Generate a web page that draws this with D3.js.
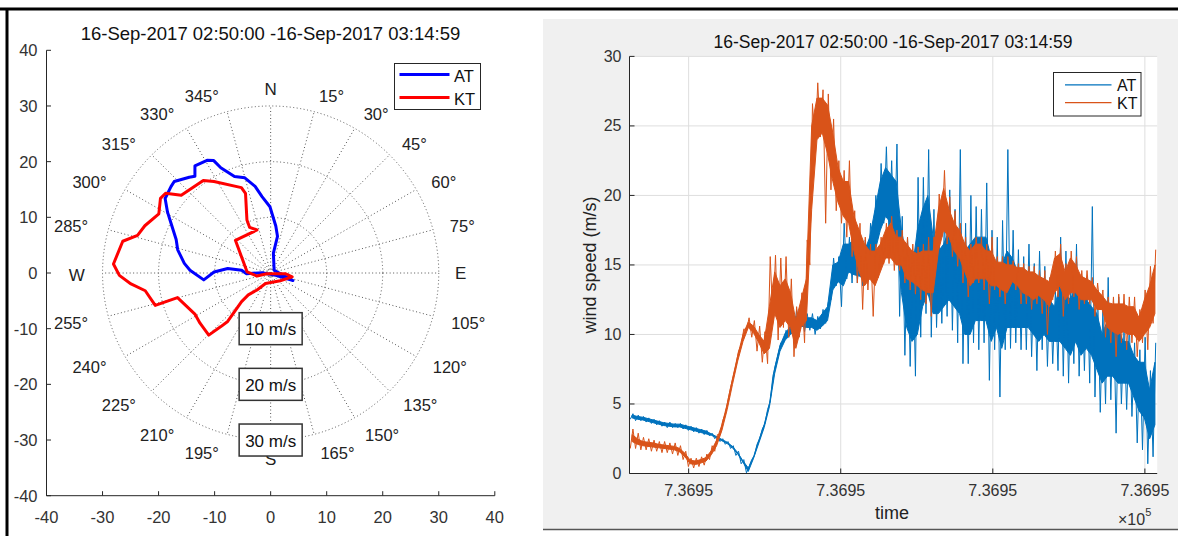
<!DOCTYPE html>
<html>
<head>
<meta charset="utf-8">
<script src="https://cdn.jsdelivr.net/npm/d3@7"></script>
<style>
    body { margin: 0; background: #fff; }
    svg { display: block; font-family: "Liberation Sans", Arial, sans-serif; }
</style>
</head>
<body>
<svg id="fig" width="1178" height="536"></svg>
<script>
// Shared title
const titleText = '16-Sep-2017 02:50:00 -16-Sep-2017 03:14:59';

// Left: wind direction plot, vertices in drawing order (compass deg, m/s)
const atDir = [330.7, 324.9, 322.1, 319.8, 313.7, 311.1, 305.4, 300.7, 297.0, 289.6, 284.1, 276.4, 272.0, 264.1, 271.0, 276.0,
    275.4, 268.4, 272.0, 115.0, 108.7, 51.0, 7.8, 10.5, 6.2, 359.4, 353.6, 349.9, 344.9, 339.6, 334.8, 333.3];
const atSpeed = [23.2, 23.5, 22.0, 22.5, 23.8, 23.6, 23.1, 21.4, 20.0, 17.9, 17.1, 15.5, 14.4, 12.0, 10.1, 7.7,
    5.2, 4.3, 1.5, 1.0, 4.2, 0.8, 3.6, 6.7, 8.5, 11.9, 13.8, 15.8, 17.7, 18.5, 20.9, 22.6];
const ktDir = [100.1, 129.3, 205.8, 218.7, 225.4, 225.3, 221.4, 222.7, 224.7, 234.4, 241.4, 255.1, 254.2, 261.9, 265.5, 269.1,
    273.3, 282.2, 285.9, 290.7, 298.0, 304.3, 307.4, 311.2, 324.1, 328.4, 341.2, 342.6, 336.0, 335.4, 342.5, 313.0,
    272.6, 257.4, 260.0, 92.6];
const ktSpeed = [3.9, 2.2, 2.1, 3.9, 5.6, 7.3, 11.6, 13.1, 15.7, 15.5, 15.4, 17.2, 21.4, 22.6, 25.0, 27.0,
    28.1, 27.0, 24.7, 24.0, 22.6, 23.8, 23.6, 21.2, 20.5, 19.3, 16.2, 15.0, 10.4, 9.0, 8.1, 8.6,
    4.2, 2.5, 0.7, 2.6];
const ringSpeeds = [10, 20, 30];
const spokeAngles = d3.range(0, 360, 15);
const cardinals = { 0: 'N', 90: 'E', 180: 'S', 270: 'W' };
const cartTicks = [-40, -30, -20, -10, 0, 10, 20, 30, 40];

// Right: wind speed time series per 15 s bin from 02:50:00
// *Min/*Max = extremes (spikes), *CoreLo/*CoreHi = dense part of the trace
const dayNum = 736954;
const startSec = 2 * 3600 + 50 * 60;
const endSec = 3 * 3600 + 14 * 60 + 59;
const binSec = 15;
const atMin = [3.9, 3.8, 3.8, 3.7, 3.6, 3.5, 3.4, 3.3, 3.3, 3.3, 3.2, 3.1, 3.0, 2.9, 2.8, 2.7, 2.5, 2.3, 2.1, 1.8,
    1.3, 0.7, 0.05, 1.0, 2.1, 3.2, 4.6, 7.0, 8.6, 9.4, 9.8, 10.0, 10.4, 10.2, 10.3, 10.0, 10.4, 10.8, 12.5, 13.5,
    12.0, 14.0, 13.7, 13.7, 13.5, 14.2, 15.1, 17.0, 18.0, 17.0, 16.0, 11.3, 8.5, 7.7, 7.0, 9.8, 11.5, 9.8, 10.5, 10.8,
    11.3, 10.3, 9.4, 7.9, 7.9, 9.4, 8.9, 9.4, 6.7, 8.9, 5.5, 8.9, 9.0, 9.4, 8.9, 8.9, 8.4, 7.4, 8.9, 7.7,
    7.9, 7.4, 7.0, 6.5, 7.9, 7.0, 7.4, 6.5, 5.5, 4.4, 5.0, 5.3, 2.9, 5.0, 4.6, 4.1, 2.2, 1.7, 0.7, 1.2];
const atMax = [4.3, 4.2, 4.1, 4.0, 3.9, 3.8, 3.7, 3.7, 3.6, 3.6, 3.5, 3.4, 3.3, 3.2, 3.1, 2.9, 2.7, 2.5, 2.3, 2.0,
    1.6, 1.0, 0.5, 1.3, 2.5, 3.6, 5.2, 7.8, 9.4, 10.3, 10.8, 11.8, 11.7, 11.5, 11.5, 11.3, 11.8, 12.3, 15.5, 15.6,
    18.0, 17.0, 17.5, 17.0, 16.8, 18.0, 20.0, 22.3, 23.5, 22.5, 23.7, 18.5, 17.0, 16.0, 21.3, 21.3, 23.3, 19.0, 17.0, 18.5,
    20.4, 19.0, 23.3, 18.0, 20.0, 19.2, 19.0, 20.9, 17.5, 17.0, 18.2, 23.3, 17.5, 16.1, 15.6, 16.5, 15.1, 16.0, 14.9, 14.1,
    13.2, 17.0, 16.0, 14.9, 16.5, 14.1, 14.1, 19.2, 13.2, 11.8, 14.1, 12.2, 12.7, 10.3, 10.8, 9.4, 8.9, 9.8, 7.4, 9.4];
const atCoreLo = [4.0, 3.9, 3.85, 3.75, 3.65, 3.55, 3.45, 3.4, 3.35, 3.35, 3.25, 3.15, 3.05, 2.95, 2.85, 2.75, 2.55, 2.35, 2.15, 1.85,
    1.4, 0.8, 0.15, 1.1, 2.2, 3.3, 4.8, 7.2, 8.8, 9.6, 10.0, 10.4, 10.6, 10.5, 10.5, 10.3, 10.6, 11.0, 13.2, 13.8,
    13.5, 14.5, 14.3, 14.2, 14.0, 14.8, 16.0, 17.5, 18.5, 18.0, 17.0, 13.0, 10.5, 9.5, 10.0, 12.0, 13.0, 11.5, 11.5, 12.0,
    12.5, 12.0, 11.5, 10.0, 10.0, 11.0, 11.0, 11.0, 9.5, 10.5, 9.0, 10.5, 10.5, 10.5, 10.5, 10.5, 10.0, 9.5, 10.0, 9.5,
    9.5, 9.5, 9.0, 8.5, 9.5, 8.5, 9.0, 8.5, 7.5, 6.5, 7.0, 7.0, 6.5, 6.5, 6.5, 5.5, 4.5, 4.0, 2.5, 3.5];
const atCoreHi = [4.2, 4.1, 4.05, 3.95, 3.85, 3.75, 3.65, 3.6, 3.55, 3.55, 3.45, 3.35, 3.25, 3.15, 3.05, 2.85, 2.65, 2.45, 2.25, 1.95,
    1.5, 0.9, 0.4, 1.2, 2.4, 3.5, 5.0, 7.6, 9.2, 10.1, 10.6, 11.3, 11.4, 11.2, 11.2, 11.0, 11.5, 12.0, 15.0, 15.2,
    16.5, 16.5, 16.8, 16.5, 16.0, 17.0, 19.0, 21.0, 22.0, 21.5, 21.0, 17.5, 15.5, 14.5, 17.5, 19.0, 20.0, 17.0, 16.0, 16.5,
    17.5, 17.0, 17.0, 16.0, 16.5, 17.0, 17.0, 17.0, 15.5, 15.0, 15.0, 16.0, 15.5, 14.5, 14.0, 14.5, 13.5, 13.5, 13.0, 12.5,
    12.0, 13.5, 13.0, 12.5, 13.5, 12.5, 12.5, 12.0, 11.5, 10.0, 11.0, 10.5, 10.5, 9.5, 9.5, 8.5, 8.0, 8.0, 6.0, 8.0];
const ktMin = [1.8, 1.8, 1.7, 1.7, 1.6, 1.6, 1.5, 1.5, 1.4, 1.3, 1.0, 0.5, 0.4, 0.5, 0.6, 1.0, 1.6, 2.8, 4.3, 6.2,
    7.8, 9.2, 10.3, 9.8, 8.8, 8.0, 7.9, 11.0, 9.6, 10.5, 9.8, 8.4, 9.8, 9.4, 15.0, 23.5, 24.2, 18.0, 20.4, 18.9,
    18.0, 17.0, 15.6, 13.7, 11.8, 13.2, 11.3, 14.1, 15.1, 15.1, 14.6, 14.6, 13.7, 13.2, 12.9, 12.5, 12.2, 11.3, 15.1, 17.0,
    16.5, 15.6, 14.9, 13.7, 12.7, 13.7, 13.7, 13.2, 12.2, 13.2, 12.7, 12.2, 13.7, 13.2, 12.2, 12.2, 11.8, 12.2, 11.5, 10.0,
    12.5, 12.7, 11.3, 12.2, 12.7, 11.8, 12.2, 12.2, 11.3, 11.8, 9.8, 9.4, 8.4, 9.4, 8.9, 9.4, 8.4, 9.4, 8.9, 10.8];
const ktMax = [3.2, 2.9, 2.6, 2.5, 2.4, 2.3, 2.3, 2.2, 2.2, 2.0, 1.6, 1.1, 1.1, 1.2, 1.4, 2.0, 2.8, 3.8, 5.3, 7.0,
    8.8, 10.4, 11.2, 11.0, 10.6, 10.2, 15.6, 15.7, 15.5, 15.6, 14.0, 12.0, 13.0, 16.8, 26.6, 28.1, 27.6, 27.3, 25.5, 22.5,
    21.8, 22.5, 18.9, 18.0, 17.0, 16.5, 16.5, 17.0, 18.0, 18.5, 17.5, 17.5, 17.0, 16.5, 16.3, 16.5, 17.0, 17.0, 20.1, 21.8,
    19.9, 18.9, 18.0, 17.0, 16.5, 17.0, 17.0, 16.5, 17.0, 15.6, 15.6, 15.6, 15.3, 15.1, 15.1, 14.9, 14.9, 14.6, 14.6, 14.1,
    16.0, 16.5, 15.1, 16.0, 15.6, 14.6, 14.6, 14.1, 13.7, 13.2, 12.7, 12.7, 12.9, 12.9, 12.7, 12.7, 11.8, 13.2, 14.9, 16.1];
const ktCoreLo = [2.3, 2.1, 2.0, 1.95, 1.9, 1.85, 1.8, 1.75, 1.7, 1.55, 1.2, 0.7, 0.65, 0.75, 0.9, 1.35, 2.0, 3.1, 4.6, 6.4,
    8.1, 9.5, 10.5, 10.1, 9.4, 8.6, 9.0, 11.5, 10.5, 11.0, 10.5, 9.0, 10.5, 11.0, 19.0, 24.0, 24.5, 23.0, 21.0, 19.5,
    18.5, 18.0, 16.0, 14.5, 13.5, 14.0, 13.5, 14.5, 15.5, 15.5, 15.0, 15.0, 14.0, 13.8, 13.5, 13.2, 13.0, 13.0, 16.0, 17.5,
    17.0, 16.0, 15.5, 14.5, 13.5, 14.0, 14.0, 14.0, 13.5, 13.5, 13.2, 13.0, 13.8, 13.5, 13.0, 12.8, 12.5, 12.8, 12.5, 12.0,
    13.0, 13.5, 12.5, 13.0, 13.0, 12.5, 12.5, 12.5, 11.8, 11.8, 10.5, 10.2, 10.0, 10.2, 10.0, 10.0, 9.5, 10.0, 10.5, 11.5];
const ktCoreHi = [2.8, 2.5, 2.3, 2.25, 2.2, 2.1, 2.05, 2.0, 1.95, 1.8, 1.45, 0.95, 0.9, 1.0, 1.15, 1.65, 2.4, 3.5, 5.0, 6.8,
    8.5, 10.0, 10.9, 10.6, 10.0, 9.5, 12.0, 14.5, 13.5, 14.0, 13.0, 11.0, 12.5, 14.0, 25.0, 27.0, 27.0, 26.5, 24.5, 22.0,
    21.0, 21.0, 18.5, 17.5, 16.5, 16.0, 16.0, 16.5, 17.5, 18.0, 17.0, 17.0, 16.5, 16.0, 15.8, 16.0, 16.0, 16.0, 19.0, 20.5,
    19.0, 18.0, 17.5, 16.5, 16.0, 16.5, 16.5, 16.0, 16.0, 15.2, 15.2, 15.0, 15.0, 14.8, 14.8, 14.5, 14.5, 14.2, 14.0, 13.8,
    15.5, 15.8, 14.5, 15.5, 15.0, 14.2, 14.0, 13.8, 13.2, 12.8, 12.3, 12.2, 12.2, 12.2, 12.0, 12.0, 11.2, 12.5, 13.5, 15.0];
const timeTicks = [736954.12, 736954.125, 736954.13, 736954.135];
const speedTicks = [0, 5, 10, 15, 20, 25, 30];

const svg = d3.select('#fig');
const axisColor = '#262626';
const textColor = '#333';

// Frame lines of the screenshot
svg.append('rect').attr('x', 543).attr('y', 19).attr('width', 635).attr('height', 510).attr('fill', '#f0f0f0');
svg.append('line').attr('x1', 543).attr('x2', 1178).attr('y1', 529.5).attr('y2', 529.5)
    .attr('stroke', '#555').attr('stroke-width', 1.5);
svg.append('line').attr('x1', 0).attr('x2', 1178).attr('y1', 9).attr('y2', 9)
    .attr('stroke', '#000').attr('stroke-width', 3);
svg.append('line').attr('x1', 7).attr('x2', 7).attr('y1', 8).attr('y2', 536)
    .attr('stroke', '#000').attr('stroke-width', 3);

// ---------- Left: compass plot ----------
const px = d3.scaleLinear().domain([-40, 40]).range([46.5, 494.8]);
const py = d3.scaleLinear().domain([-40, 40]).range([495.7, 50.3]);
const rad = d => d * Math.PI / 180;
const toXY = (dir, s) => [px(s * Math.sin(rad(dir))), py(s * Math.cos(rad(dir)))];

const left = svg.append('g');

left.append('text').attr('x', 270.5).attr('y', 33).attr('text-anchor', 'middle')
    .attr('dominant-baseline', 'central').attr('font-size', 18.5).attr('fill', '#111').text(titleText);

// cartesian axes
left.append('line').attr('x1', px(-40)).attr('x2', px(-40)).attr('y1', py(40)).attr('y2', py(-40))
    .attr('stroke', axisColor).attr('stroke-width', 1);
left.append('line').attr('x1', px(-40)).attr('x2', px(40)).attr('y1', py(-40)).attr('y2', py(-40))
    .attr('stroke', axisColor).attr('stroke-width', 1);
cartTicks.forEach(t => {
    left.append('line').attr('x1', px(-40)).attr('x2', px(-40) + 4.5).attr('y1', py(t)).attr('y2', py(t))
        .attr('stroke', axisColor);
    left.append('line').attr('x1', px(t)).attr('x2', px(t)).attr('y1', py(-40)).attr('y2', py(-40) - 4.5)
        .attr('stroke', axisColor);
    left.append('text').attr('x', px(-40) - 9).attr('y', py(t)).attr('text-anchor', 'end')
        .attr('dominant-baseline', 'central').attr('font-size', 16.5).attr('fill', textColor).text(t);
    left.append('text').attr('x', px(t)).attr('y', py(-40) + 21).attr('text-anchor', 'middle')
        .attr('dominant-baseline', 'central').attr('font-size', 16.5).attr('fill', textColor).text(t);
});

// polar grid
const gridStyle = sel => sel.attr('fill', 'none').attr('stroke', '#555').attr('stroke-width', 1)
    .attr('stroke-dasharray', '1,2.5');
ringSpeeds.forEach(r => {
    left.append('ellipse').attr('cx', px(0)).attr('cy', py(0))
        .attr('rx', px(r) - px(0)).attr('ry', py(0) - py(r)).call(gridStyle);
});
spokeAngles.forEach(a => {
    const [x2, y2] = toXY(a, 30);
    left.append('line').attr('x1', px(0)).attr('y1', py(0)).attr('x2', x2).attr('y2', y2).call(gridStyle);
});

// direction labels
const labelR = 33;
spokeAngles.forEach(a => {
    const s = Math.sin(rad(a)), c = Math.cos(rad(a));
    const [x, y] = toXY(a, labelR);
    let dx = 0;
    if (cardinals[a] !== undefined) {
        dx = a === 90 ? 5 : a === 270 ? -9 : 0;
    } else {
        dx = s > 0 ? (c > 0 ? 13 : 19) : -21;
    }
    left.append('text').attr('x', x + dx).attr('y', y + (c < 0 ? 2.5 : 0.5))
        .attr('text-anchor', 'middle').attr('dominant-baseline', 'central')
        .attr('font-size', cardinals[a] !== undefined ? 17 : 16.5).attr('fill', '#222')
        .text(cardinals[a] !== undefined ? cardinals[a] : a + '°');
});

// wind curves
const polarLine = d3.line().curve(d3.curveLinearClosed);
const series = [
    { name: 'AT', dir: atDir, speed: atSpeed, color: '#0000ff' },
    { name: 'KT', dir: ktDir, speed: ktSpeed, color: '#ff0000' }
];
series.forEach(sr => {
    left.append('path').attr('d', polarLine(sr.dir.map((d, i) => toXY(d, sr.speed[i]))))
        .attr('fill', 'none').attr('stroke', sr.color).attr('stroke-width', 3)
        .attr('stroke-linejoin', 'round');
});

// ring speed boxes
ringSpeeds.forEach(r => {
    const cy = py(-r);
    left.append('rect').attr('x', px(0) - 31.5).attr('y', cy - 16).attr('width', 63).attr('height', 32)
        .attr('fill', '#fff').attr('stroke', '#333').attr('stroke-width', 1.5);
    left.append('text').attr('x', px(0)).attr('y', cy + 1).attr('text-anchor', 'middle')
        .attr('dominant-baseline', 'central').attr('font-size', 17).attr('fill', '#111').text(r + ' m/s');
});

// legend
const lg = left.append('g');
lg.append('rect').attr('x', 394.5).attr('y', 63.5).attr('width', 86).attr('height', 46)
    .attr('fill', '#fff').attr('stroke', axisColor).attr('stroke-width', 1);
series.forEach((sr, i) => {
    const y = 74.5 + i * 23;
    lg.append('line').attr('x1', 399.5).attr('x2', 449.5).attr('y1', y).attr('y2', y)
        .attr('stroke', sr.color).attr('stroke-width', 3);
    lg.append('text').attr('x', 454).attr('y', y + 1).attr('dominant-baseline', 'central')
        .attr('font-size', 16.5).attr('fill', '#111').text(sr.name);
});

// ---------- Right: time series ----------
const toDatenum = sec => dayNum + sec / 86400;
const tx = d3.scaleLinear().domain([toDatenum(startSec), toDatenum(endSec)]).range([629.5, 1157.2]);
const ty = d3.scaleLinear().domain([0, 30]).range([473.5, 56.4]);

const right = svg.append('g');
right.append('rect').attr('x', tx.range()[0]).attr('y', ty(30)).attr('width', tx.range()[1] - tx.range()[0])
    .attr('height', ty(0) - ty(30)).attr('fill', '#fff');

// grid
speedTicks.forEach(v => {
    right.append('line').attr('x1', tx.range()[0]).attr('x2', tx.range()[1]).attr('y1', ty(v)).attr('y2', ty(v))
        .attr('stroke', '#dedede').attr('stroke-width', 1);
});
timeTicks.forEach(t => {
    right.append('line').attr('x1', tx(t)).attr('x2', tx(t)).attr('y1', ty(0)).attr('y2', ty(30))
        .attr('stroke', '#dedede').attr('stroke-width', 1);
});

// dense part of each trace as a band, spikes as a min/max zigzag
const binTime = (i, frac) => toDatenum(startSec + (i + frac) * binSec);
const spikePoints = (lo, hi) => {
    const pts = [];
    lo.forEach((v, i) => pts.push([binTime(i, 0.15), v], [binTime(i, 0.65), hi[i]]));
    return pts;
};
const tsLine = d3.line().x(d => tx(d[0])).y(d => ty(d[1]));
const coreArea = d3.area().x((d, i) => tx(binTime(i, 0.5))).y0(d => ty(d[0])).y1(d => ty(d[1]));
const tsSeries = [
    { name: 'AT', min: atMin, max: atMax, coreLo: atCoreLo, coreHi: atCoreHi, color: '#0072bd' },
    { name: 'KT', min: ktMin, max: ktMax, coreLo: ktCoreLo, coreHi: ktCoreHi, color: '#d95319' }
];
tsSeries.forEach(sr => {
    right.append('path').attr('d', coreArea(sr.coreLo.map((v, i) => [v, sr.coreHi[i]])))
        .attr('fill', sr.color).attr('stroke', sr.color).attr('stroke-width', 1);
    right.append('path').attr('d', tsLine(spikePoints(sr.min, sr.max)))
        .attr('fill', 'none').attr('stroke', sr.color).attr('stroke-width', 1);
});

// axes
right.append('line').attr('x1', tx.range()[0]).attr('x2', tx.range()[0]).attr('y1', ty(0)).attr('y2', ty(30))
    .attr('stroke', axisColor);
right.append('line').attr('x1', tx.range()[0]).attr('x2', tx.range()[1]).attr('y1', ty(0)).attr('y2', ty(0))
    .attr('stroke', axisColor);
speedTicks.forEach(v => {
    right.append('line').attr('x1', tx.range()[0]).attr('x2', tx.range()[0] + 5).attr('y1', ty(v)).attr('y2', ty(v))
        .attr('stroke', axisColor);
    right.append('text').attr('x', tx.range()[0] - 8).attr('y', ty(v)).attr('text-anchor', 'end')
        .attr('dominant-baseline', 'central').attr('font-size', 16).attr('fill', textColor).text(v);
});
timeTicks.forEach(t => {
    right.append('line').attr('x1', tx(t)).attr('x2', tx(t)).attr('y1', ty(0)).attr('y2', ty(0) - 5)
        .attr('stroke', axisColor);
    right.append('text').attr('x', tx(t)).attr('y', ty(0) + 17).attr('text-anchor', 'middle')
        .attr('dominant-baseline', 'central').attr('font-size', 16).attr('fill', textColor)
        .text((t / 1e5).toFixed(4));
});

right.append('text').attr('x', 893).attr('y', 41.5).attr('text-anchor', 'middle')
    .attr('dominant-baseline', 'central').attr('font-size', 17.5).attr('fill', '#111').text(titleText);
right.append('text').attr('transform', `translate(590,${(ty(0) + ty(30)) / 2}) rotate(-90)`)
    .attr('text-anchor', 'middle').attr('dominant-baseline', 'central')
    .attr('font-size', 18).attr('fill', '#222').text('wind speed (m/s)');
right.append('text').attr('x', 892).attr('y', 512.5).attr('text-anchor', 'middle')
    .attr('dominant-baseline', 'central').attr('font-size', 18).attr('fill', '#222').text('time');
const expo = right.append('text').attr('x', 1118).attr('y', 519).attr('dominant-baseline', 'central')
    .attr('font-size', 16).attr('fill', textColor);
expo.append('tspan').text('×10');
expo.append('tspan').attr('font-size', 11).attr('dy', -7).text('5');

// legend
const rg = right.append('g');
rg.append('rect').attr('x', 1053.5).attr('y', 72.5).attr('width', 87.5).attr('height', 43.5)
    .attr('fill', '#fff').attr('stroke', axisColor).attr('stroke-width', 1);
tsSeries.forEach((sr, i) => {
    const y = 84.8 + i * 17.8;
    rg.append('line').attr('x1', 1065).attr('x2', 1111.5).attr('y1', y).attr('y2', y)
        .attr('stroke', sr.color).attr('stroke-width', 1.2);
    rg.append('text').attr('x', 1117).attr('y', y + 1).attr('dominant-baseline', 'central')
        .attr('font-size', 16).attr('fill', '#111').text(sr.name);
});
</script>
</body>
</html>
